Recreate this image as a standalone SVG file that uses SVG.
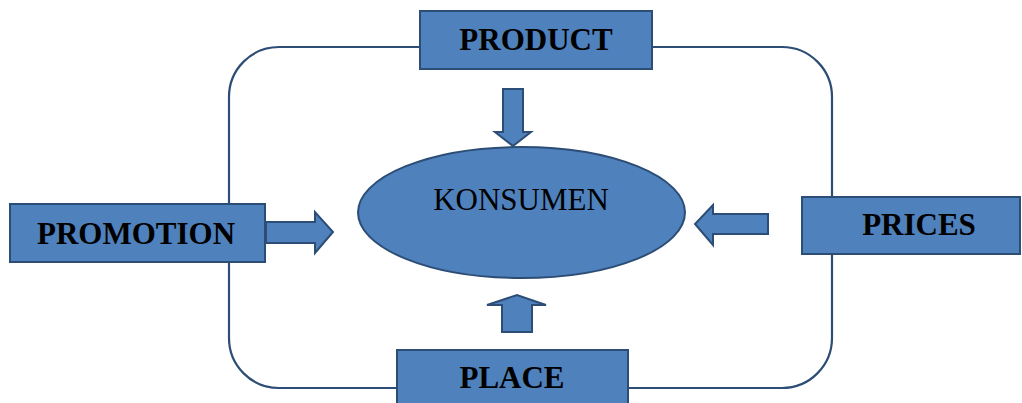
<svg xmlns="http://www.w3.org/2000/svg" width="1022" height="403" viewBox="0 0 1022 403">
<style>
.box{fill:#4F81BD;stroke:#2C4D75;stroke-width:2}
.arr{fill:#4F81BD;stroke:#2C4D75;stroke-width:2;stroke-linejoin:miter}
.line{fill:none;stroke:#2C4D75;stroke-width:2.2}
.lbl{font-family:"Liberation Serif","Times New Roman",serif;font-weight:bold;font-size:31px;fill:#000;text-anchor:middle}
.ctr{font-family:"Liberation Serif","Times New Roman",serif;font-size:31px;fill:#000;text-anchor:middle}
</style>
<g id="connectors">
<rect class="line" x="229" y="47" width="603" height="341" rx="50" ry="50"/>
<path class="arr" d="M503,89 H523 V132 H531 L513,146 L495,132 H503 Z"/>
<path class="arr" d="M266,222 H315 V212 L333,232 L315,253 V243 H266 Z"/>
<path class="arr" d="M768,214 H713 V205 L695,224 L713,245 V234 H768 Z"/>
<path class="arr" d="M502,332 V305 H487 L517,295 L546,305 H532 V332 Z"/>
</g>
<g id="konsumen">
<ellipse class="box" cx="521.5" cy="212.5" rx="163.5" ry="65.5"/>
<text class="ctr" x="521" y="210">KONSUMEN</text>
</g>
<g id="product">
<rect class="box" x="420" y="11" width="232" height="58"/>
<text class="lbl" x="536" y="50">PRODUCT</text>
</g>
<g id="promotion">
<rect class="box" x="10" y="204" width="255" height="58"/>
<text class="lbl" x="136" y="244">PROMOTION</text>
</g>
<g id="prices">
<rect class="box" x="802" y="197" width="218" height="57"/>
<text class="lbl" x="919" y="235">PRICES</text>
</g>
<g id="place">
<rect class="box" x="397" y="350" width="231" height="60"/>
<text class="lbl" x="512" y="388">PLACE</text>
</g>
</svg>
